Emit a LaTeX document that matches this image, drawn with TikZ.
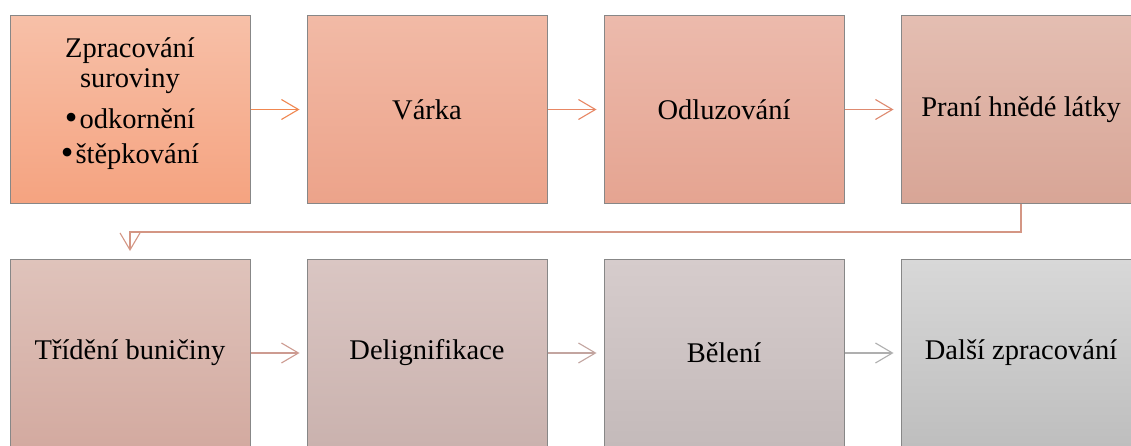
\documentclass[tikz,border=0pt]{standalone}
\usepackage{fontspec}
\setmainfont{Liberation Serif}
\usetikzlibrary{arrows.meta}
\definecolor{t1}{RGB}{247,192,168}\definecolor{b1}{RGB}{245,163,128}
\definecolor{t2}{RGB}{242,186,166}\definecolor{b2}{RGB}{236,163,138}
\definecolor{t3}{RGB}{236,186,172}\definecolor{b3}{RGB}{229,164,145}
\definecolor{t4}{RGB}{228,190,178}\definecolor{b4}{RGB}{216,165,150}
\definecolor{t5}{RGB}{223,195,187}\definecolor{b5}{RGB}{211,170,160}
\definecolor{t6}{RGB}{218,198,195}\definecolor{b6}{RGB}{202,178,174}
\definecolor{t7}{RGB}{214,204,204}\definecolor{b7}{RGB}{196,186,186}
\definecolor{t8}{RGB}{216,216,216}\definecolor{b8}{RGB}{190,190,190}
\definecolor{a1}{RGB}{240,135,80}\definecolor{a2}{RGB}{232,135,100}
\definecolor{a3}{RGB}{222,138,112}\definecolor{a4}{RGB}{212,150,132}
\definecolor{a5}{RGB}{205,155,145}\definecolor{a6}{RGB}{195,165,160}
\definecolor{a7}{RGB}{175,175,175}
\definecolor{edge}{RGB}{135,135,135}
\newcommand{\bul}{{\fontsize{36}{30}\selectfont\raisebox{-1pt}{•}}\hspace{2pt}}
\tikzset{
  box/.style={draw=edge, line width=1pt, minimum width=240pt, minimum height=187pt,
    inner sep=0pt, align=center, font=\fontsize{28.5}{30}\selectfont, text=black},
  arr/.style={line width=1.1pt, -{Straight Barb[length=17pt,width=20pt,line width=1.1pt]}, shorten >=7pt},
}
\begin{document}
\begin{tikzpicture}[x=1pt,y=1pt]
\useasboundingbox (0,0) rectangle (1131,445);
\fill[white] (0,0) rectangle (1131,445);
\node[box, top color=t1, bottom color=b1] (n1) at (130,335.5) {};
\node[box, top color=t2, bottom color=b2] (n2) at (427,335.5) {Várka};
\node[box, top color=t3, bottom color=b3] (n3) at (724,335.5) {Odluzování};
\node[box, top color=t4, bottom color=b4] (n4) at (1021,335.5) {Praní hnědé látky};
\node[box, top color=t5, bottom color=b5] (n5) at (130,92) {Třídění buničiny};
\node[box, top color=t6, bottom color=b6] (n6) at (427,92) {Delignifikace};
\node[box, top color=t7, bottom color=b7] (n7) at (724,92) {Bělení};
\node[box, top color=t8, bottom color=b8] (n8) at (1021,92) {Další zpracování};
\node[align=center, font=\fontsize{28.5}{30}\selectfont, inner sep=0pt] (n1t) at (130,341)
  {Zpracování\\suroviny\\[11pt]\bul odkornění\\[5pt]\bul štěpkování};
\draw[arr, a1] (n1) -- (n2);
\draw[arr, a2] (n2) -- (n3);
\draw[arr, a3] (n3) -- (n4);
\coordinate (c1) at (1021,213);
\coordinate (c2) at (130,213);
\draw[arr, a4, shorten >=8pt] (n4.south) -- (c1) -- (c2) -- (n5.north);
\draw[arr, a5] (n5) -- (n6);
\draw[arr, a6] (n6) -- (n7);
\draw[arr, a7] (n7) -- (n8);
\end{tikzpicture}
\end{document}
